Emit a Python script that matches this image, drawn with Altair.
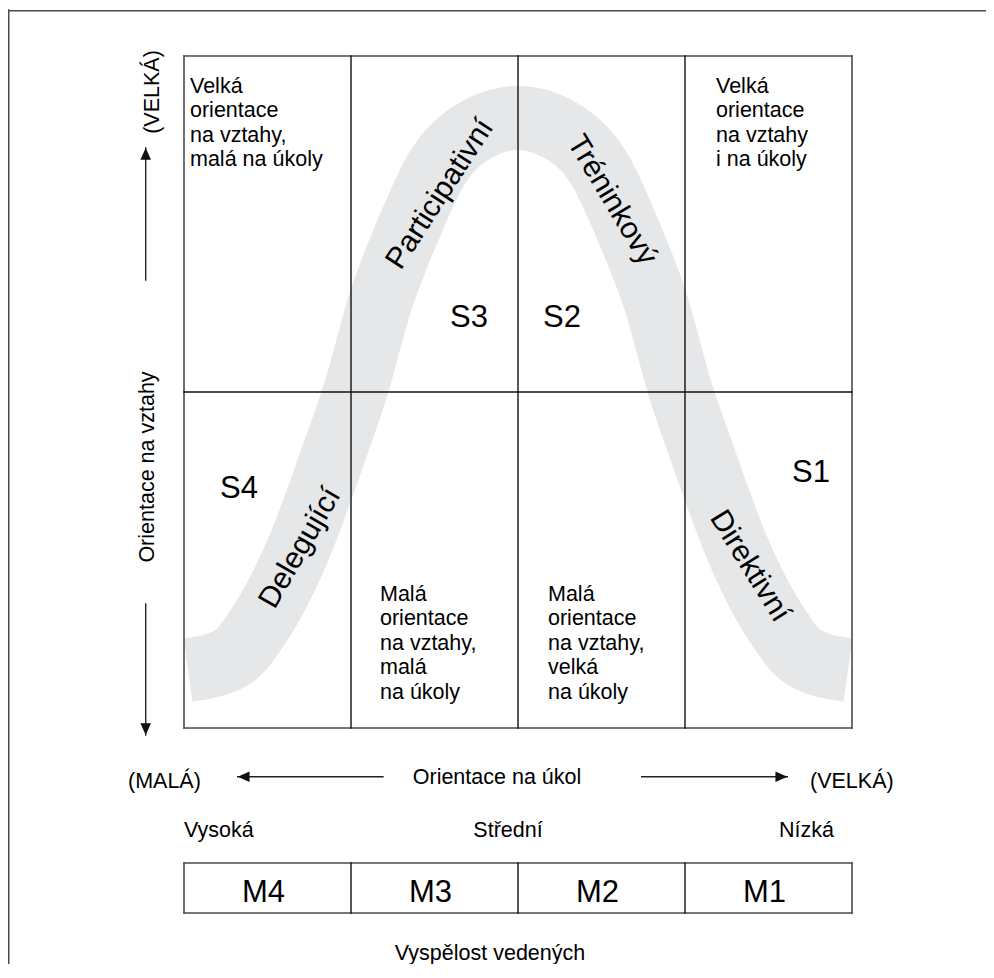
import altair as alt
import pandas as pd

# ---------------- data ----------------
GRID_X = [184, 351, 518, 685, 852]          # column borders of the style grid
GRID_Y = [56, 392, 728]                      # row borders of the style grid
MBAR_Y = [863, 913]                          # maturity bar top / bottom
M_LABELS = ["M4", "M3", "M2", "M1"]

# centre line of the grey bell-shaped band
BAND_X = [188, 231, 261, 298, 335, 355, 381, 406, 436, 476, 518,
          560, 600, 630, 655, 681, 701, 738, 775, 805, 848]
BAND_Y = [670, 658, 622, 550, 450, 392, 300, 235, 170, 130, 118,
          130, 170, 235, 300, 392, 450, 550, 622, 658, 670]

CELL_TEXT = ["Velká\norientace\nna vztahy,\nmalá na úkoly",
             "Velká\norientace\nna vztahy\ni na úkoly",
             "Malá\norientace\nna vztahy,\nmalá\nna úkoly",
             "Malá\norientace\nna vztahy,\nvelká\nna úkoly"]
CELL_X = [190, 716, 380, 548]
CELL_Y = [93, 93, 601, 601]

STYLE_CODES = ["S1", "S2", "S3", "S4"]
STYLE_X = [811, 562, 469, 239]
STYLE_Y = [482, 327, 327, 498]

STYLE_NAMES = ["Direktivní", "Tréninkový", "Participativní", "Delegující"]
NAME_X = [750, 612, 440, 300]
NAME_Y = [566, 200, 194, 548]
NAME_ANGLE = [58, 59, 303, 300]

H_TEXT = ["(MALÁ)", "Orientace na úkol", "(VELKÁ)", "Vysoká", "Střední", "Nízká", "Vyspělost vedených"]
H_X = [128, 497, 810, 184, 508, 779, 490]
H_Y = [788, 784, 788, 837, 837, 837, 960]
H_ALIGN = ["left", "center", "left", "left", "center", "left", "center"]

V_TEXT = ["(VELKÁ)", "Orientace na vztahy"]
V_X = [159, 154]
V_Y = [92, 467]

ARROW_X1 = [145.7, 145.7, 383, 641.7]
ARROW_Y1 = [280, 604, 776.7, 776.7]
ARROW_X2 = [145.7, 145.7, 237.7, 787.3]
ARROW_Y2 = [148, 735, 776.7, 776.7]
ARROW_DIR = ["up", "down", "left", "right"]

FONT = "Liberation Sans, Arial, Helvetica, sans-serif"
OUTER = "#4a4a4a"
INNER = "#111111"
TEXT = "#000000"

# ---------------- scales (1 unit = 1 page pixel) ----------------
W, H = 978, 956
XS = alt.Scale(domain=[8, 8 + W], nice=False, zero=False)
YS = alt.Scale(domain=[8, 8 + H], nice=False, zero=False, reverse=True)


def X(f="x"):
    return alt.X(f"{f}:Q", scale=XS, axis=None)


def Y(f="y"):
    return alt.Y(f"{f}:Q", scale=YS, axis=None)


# ---------------- line segments ----------------
x0, x4 = GRID_X[0], GRID_X[-1]
y0, y1, y2 = GRID_Y
segs = []
# page frame (left and top)
segs.append(dict(x=8.75, y=10, x2=8.75, y2=8 + H, c=OUTER, w=1.5))
segs.append(dict(x=8, y=10.75, x2=8 + W, y2=10.75, c=OUTER, w=1.5))
# grid outline
for (a, b, c, d) in [(x0, y0, x4, y0), (x0, y2, x4, y2), (x0, y0, x0, y2), (x4, y0, x4, y2)]:
    segs.append(dict(x=a, y=b, x2=c, y2=d, c=OUTER, w=1.6))
for gx in GRID_X[1:-1]:
    segs.append(dict(x=gx, y=y0, x2=gx, y2=y2, c=INNER, w=1.4))
segs.append(dict(x=x0, y=y1, x2=x4, y2=y1, c=INNER, w=1.4))
# maturity bar
m0, m1 = MBAR_Y
for (a, b, c, d) in [(x0, m0, x4, m0), (x0, m1, x4, m1), (x0, m0, x0, m1), (x4, m0, x4, m1)]:
    segs.append(dict(x=a, y=b, x2=c, y2=d, c=OUTER, w=1.6))
for gx in GRID_X[1:-1]:
    segs.append(dict(x=gx, y=m0, x2=gx, y2=m1, c=INNER, w=1.4))
# arrow shafts
for a, b, c, d in zip(ARROW_X1, ARROW_Y1, ARROW_X2, ARROW_Y2):
    segs.append(dict(x=a, y=b, x2=c, y2=d, c="#222222", w=1.4))
seg_df = pd.DataFrame(segs)

rules = alt.Chart(seg_df).mark_rule(strokeCap="square").encode(
    x=X(), y=Y(), x2="x2:Q", y2="y2:Q",
    color=alt.Color("c:N", scale=None),
    strokeWidth=alt.StrokeWidth("w:Q", scale=None),
)

# ---------------- band ----------------
band_df = pd.DataFrame({"x": BAND_X, "y": BAND_Y, "o": list(range(len(BAND_X)))})
band = alt.Chart(band_df).mark_line(
    interpolate="monotone", strokeWidth=64, strokeCap="butt", color="#e6e7e8"
).encode(x=X(), y=Y(), order="o:Q")

# ---------------- arrow heads ----------------
SHAPES = {
    "up": "M0,0L-0.45,1L0.45,1Z",
    "down": "M0,0L-0.45,-1L0.45,-1Z",
    "left": "M0,0L1,-0.45L1,0.45Z",
    "right": "M0,0L-1,-0.45L-1,0.45Z",
}
head_df = pd.DataFrame({"x": ARROW_X2, "y": ARROW_Y2, "s": [SHAPES[d] for d in ARROW_DIR]})
heads = alt.Chart(head_df).mark_point(filled=True, size=560, color="#111111", opacity=1, strokeWidth=0).encode(
    x=X(), y=Y(), shape=alt.Shape("s:N", scale=None)
)

# ---------------- texts ----------------
cell_df = pd.DataFrame({"x": CELL_X, "y": CELL_Y, "t": CELL_TEXT})
cells = alt.Chart(cell_df).mark_text(
    align="left", baseline="alphabetic", lineBreak="\n", lineHeight=24.4,
    font=FONT, fontSize=21.5, color=TEXT
).encode(x=X(), y=Y(), text="t:N")

s_df = pd.DataFrame({"x": STYLE_X, "y": STYLE_Y, "t": STYLE_CODES})
scodes = alt.Chart(s_df).mark_text(
    align="center", baseline="alphabetic", font=FONT, fontSize=31, color=TEXT
).encode(x=X(), y=Y(), text="t:N")

n_df = pd.DataFrame({"x": NAME_X, "y": NAME_Y, "t": STYLE_NAMES, "a": NAME_ANGLE})
names = alt.Chart(n_df).mark_text(
    align="center", baseline="middle", font=FONT, fontSize=30, color=TEXT
).encode(x=X(), y=Y(), text="t:N", angle=alt.Angle("a:Q", scale=None))

mx = [(GRID_X[i] + GRID_X[i + 1]) / 2 for i in range(4)]
m_df = pd.DataFrame({"x": mx, "y": [902] * 4, "t": M_LABELS})
mlabels = alt.Chart(m_df).mark_text(
    align="center", baseline="alphabetic", font=FONT, fontSize=31, color=TEXT, dx=-4
).encode(x=X(), y=Y(), text="t:N")

h_df = pd.DataFrame({"x": H_X, "y": H_Y, "t": H_TEXT, "al": H_ALIGN})
h_layers = []
for al in ["left", "center"]:
    h_layers.append(
        alt.Chart(h_df[h_df["al"] == al]).mark_text(
            align=al, baseline="alphabetic", font=FONT, fontSize=21.5, color=TEXT
        ).encode(x=X(), y=Y(), text="t:N")
    )

v_df = pd.DataFrame({"x": V_X, "y": V_Y, "t": V_TEXT})
vtexts = alt.Chart(v_df).mark_text(
    align="center", baseline="alphabetic", font=FONT, fontSize=21.5, color=TEXT, angle=270
).encode(x=X(), y=Y(), text="t:N")

chart = alt.layer(
    band, rules, heads, cells, scodes, names, mlabels, *h_layers, vtexts
).properties(
    width=W, height=H, padding=0, autosize="none", background="white"
).configure_view(stroke=None)

chart.save("out.html", embed_options={"renderer": "svg", "actions": False})
